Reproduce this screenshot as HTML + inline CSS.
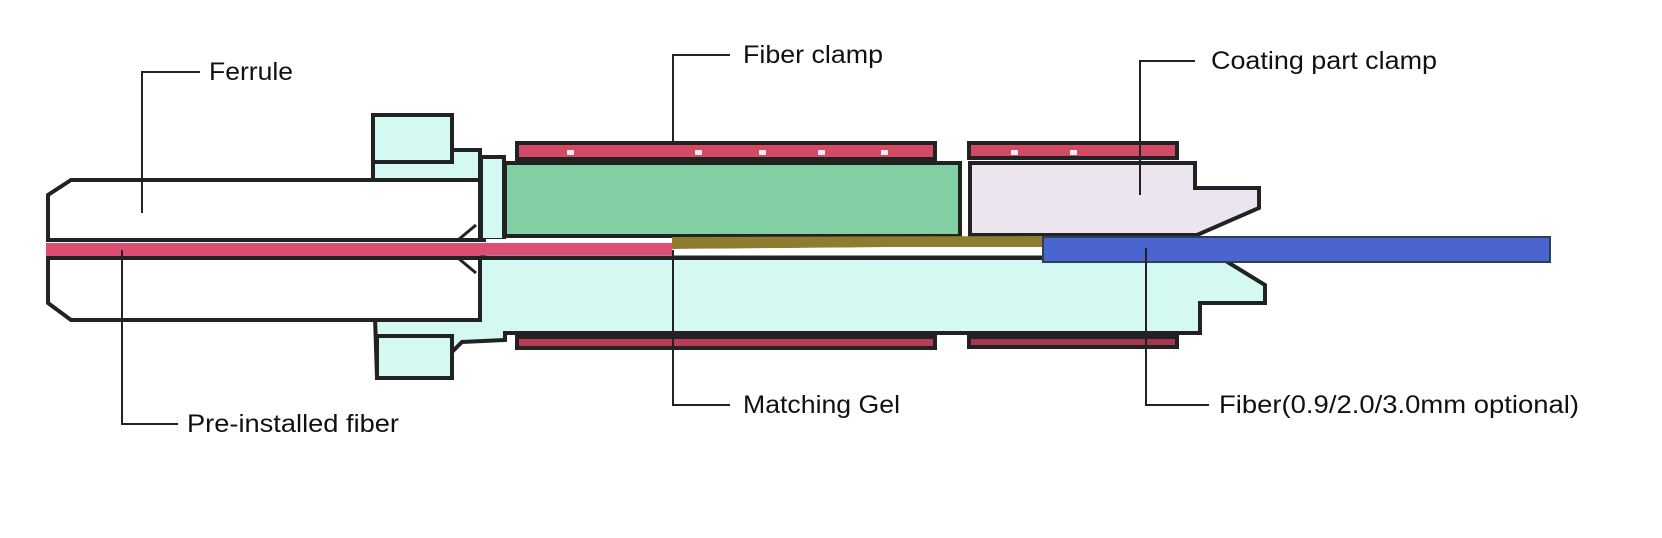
<!DOCTYPE html>
<html><head><meta charset="utf-8"><style>html,body{margin:0;padding:0;background:#fff}svg{display:block}</style></head>
<body>
<svg width="1662" height="538" viewBox="0 0 1662 538" xmlns="http://www.w3.org/2000/svg">
<g stroke="#222" stroke-width="4" stroke-linejoin="miter">
<!-- lower cyan body -->
<path d="M375,317 L480,317 L480,258 L1221,258 L1265,285 L1265,303 L1200,303 L1200,333 L505,333 L505,340 L462,342 L452,352 L452,378 L377,378 Z" fill="#d4f8f2"/>
<rect x="377" y="336" width="75" height="42" fill="#d4f8f2"/>
<!-- upper cyan / box -->
<path d="M373,162 L373,180 L480,180 L480,150 L452,150 L452,162 Z" fill="#d4f8f2"/>
<rect x="373" y="115" width="79" height="47" fill="#d4f8f2"/>
<rect x="481" y="157" width="23" height="83" fill="#d4f8f2"/>
<!-- ferrule -->
<path d="M71,180 L480,180 L480,240 L48,240 L48,195 Z" fill="#fff"/>
<path d="M48,258 L480,258 L480,320 L71,320 L48,303 Z" fill="#fff"/>
<polyline points="458,240 476,225" fill="none" stroke-width="3"/>
<polyline points="458,258 476,273" fill="none" stroke-width="3"/>
<!-- green -->
<rect x="505" y="163" width="455" height="73" fill="#82cfa4"/>
<!-- pink coating clamp body -->
<path d="M970,163 L1195,163 L1195,188 L1259,188 L1259,208 L1197,235 L970,235 Z" fill="#ece4ee"/>
<!-- clamps -->
<rect x="517" y="143" width="418" height="16" fill="#d24a66"/>
<rect x="969" y="143" width="208" height="15" fill="#d24a66"/>
<rect x="517" y="337" width="418" height="11" fill="#b83c58"/>
<rect x="969" y="337" width="208" height="10" fill="#a53850"/>
</g>
<g fill="#fbe8ea">
<rect x="567" y="150" width="7" height="5"/><rect x="695" y="150" width="7" height="5"/><rect x="759" y="150" width="7" height="5"/><rect x="818" y="150" width="7" height="5"/><rect x="881" y="150" width="7" height="5"/>
<rect x="1011" y="150" width="7" height="5"/><rect x="1070" y="150" width="7" height="5"/>
</g>
<!-- fibers -->
<rect x="46" y="243" width="440" height="13" fill="#de4d74"/>
<rect x="486" y="243" width="186" height="12" fill="#de4d74"/>
<rect x="486" y="239" width="186" height="4" fill="#fff"/>
<path d="M672,237 L1043,236 L1043,247 L900,247 L672,249 Z" fill="#8e7c30"/>
<path d="M672,249 L900,247 L1043,247 L1043,257 L920,257 L672,253 Z" fill="#fff"/>
<line x1="480" y1="257" x2="1043" y2="257" stroke="#222" stroke-width="3"/>
<rect x="1043" y="237" width="507" height="25" fill="#4a65cf" stroke="#2c3f55" stroke-width="2"/>
<!-- leaders -->
<g fill="none" stroke="#222" stroke-width="2">
<polyline points="142,213 142,72 200,72"/>
<polyline points="673,143 673,55 730,55"/>
<polyline points="1140,195 1140,61 1195,61"/>
<polyline points="122,250 122,424 178,424"/>
<polyline points="673,250 673,405 730,405"/>
<polyline points="1146,248 1146,405 1209,405"/>
</g>
<g font-family="Liberation Sans, sans-serif" font-size="25" fill="#111">
<text x="209" y="80" textLength="84" lengthAdjust="spacingAndGlyphs">Ferrule</text>
<text x="743" y="63" textLength="140" lengthAdjust="spacingAndGlyphs">Fiber clamp</text>
<text x="1211" y="69" textLength="226" lengthAdjust="spacingAndGlyphs">Coating part clamp</text>
<text x="187" y="432" textLength="212" lengthAdjust="spacingAndGlyphs">Pre-installed fiber</text>
<text x="743" y="413" textLength="157" lengthAdjust="spacingAndGlyphs">Matching Gel</text>
<text x="1219" y="413" textLength="360" lengthAdjust="spacingAndGlyphs">Fiber(0.9/2.0/3.0mm optional)</text>
</g>
</svg>
</body></html>
